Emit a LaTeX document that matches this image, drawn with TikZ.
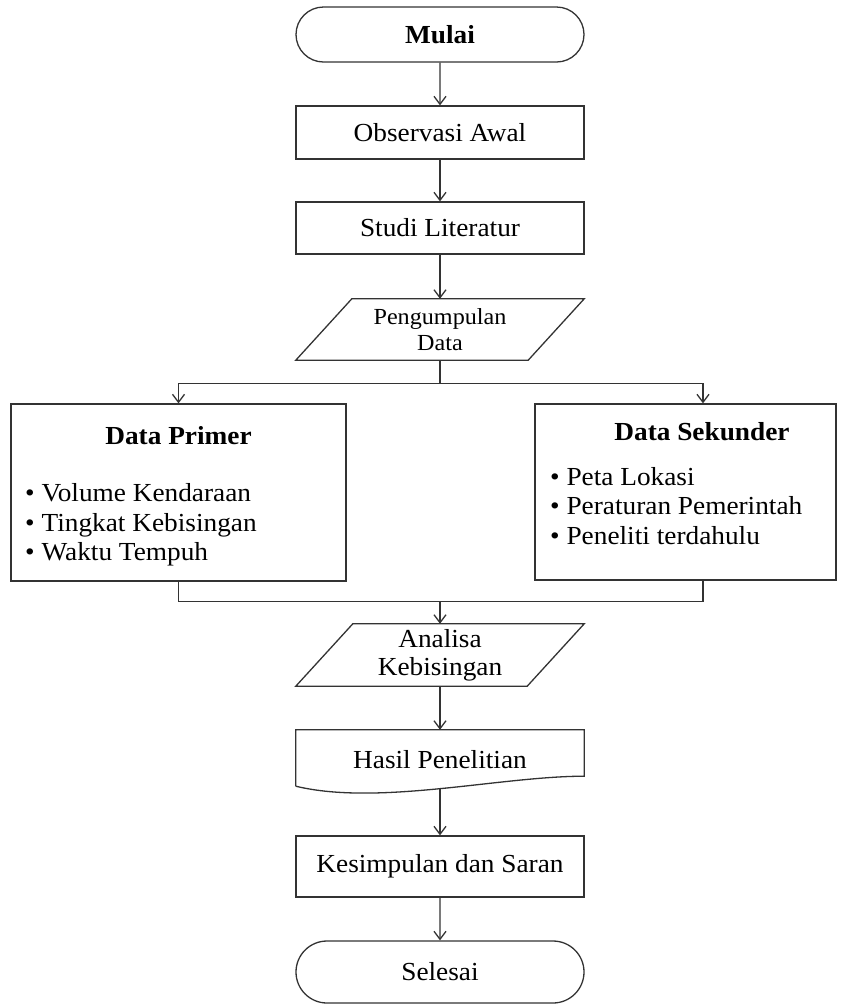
\documentclass[tikz,border=0pt]{standalone}
\usepackage{fontspec}
\setmainfont{Liberation Serif}[FakeStretch=1.05]
\usetikzlibrary{arrows.meta,shapes.misc,calc}
\definecolor{warnagaris}{gray}{0.2}
\newcommand{\hurufutama}{\fontsize{26}{29.5}\selectfont}
\begin{document}
\begin{tikzpicture}[x=1pt, y=-1pt,
    kotak/.style = {draw=warnagaris, line width=1.3pt, inner sep=0pt},
    proses/.style = {kotak, minimum width=288pt, minimum height=53pt, font=\hurufutama},
    terminal/.style = {proses, rounded rectangle, minimum height=55pt},
    kosong/.style = {inner sep=0pt, minimum width=288pt, align=center},
    sambung/.style = {draw=warnagaris, line width=1.3pt},
    panah/.style = {sambung, -{Straight Barb[length=8pt,width=12pt]}}]
        \useasboundingbox (0,0) rectangle (859,1005);

        \node[terminal, font=\hurufutama\bfseries] (mulai) at (440,34.5) {Mulai};
        \node[proses] (observasi) at (440,132.5) {Observasi Awal};
        \node[proses, minimum height=52pt] (studi) at (440,228) {Studi Literatur};
        \node[kosong, minimum height=61pt, font=\fontsize{23}{26}\selectfont] (kumpul) at (440,329.5) {Pengumpulan\\Data};

        \node[kotak, minimum width=335pt, minimum height=177pt] (primer) at (178.5,492.5) {};
        \node[font=\hurufutama\bfseries] (judulprimer) at (178.5,436) {Data Primer};
        \node[anchor=west, align=left, inner sep=0pt, font=\hurufutama] (isiprimer) at (25,525)
            {\textbullet\ Volume Kendaraan\\\textbullet\ Tingkat Kebisingan\\\textbullet\ Waktu Tempuh};

        \node[kotak, minimum width=301pt, minimum height=176pt] (sekunder) at (685.5,492) {};
        \node[font=\hurufutama\bfseries] (judulsekunder) at (702,432) {Data Sekunder};
        \node[anchor=west, align=left, inner sep=0pt, font=\hurufutama] (isisekunder) at (550,506)
            {\textbullet\ Peta Lokasi\\\textbullet\ Peraturan Pemerintah\\\textbullet\ Peneliti terdahulu};

        \node[kosong, minimum height=62pt, font=\fontsize{26}{28}\selectfont] (analisa) at (440,655) {Analisa\\Kebisingan};
        \node[kosong, minimum height=59pt, font=\hurufutama] (hasil) at (440,759.5) {Hasil Penelitian};
        \node[proses, minimum height=61pt] (kesimpulan) at (440,866.5) {Kesimpulan dan Saran};
        \node[terminal, minimum height=62pt] (selesai) at (440,972) {Selesai};

        % bentuk data dan dokumen
        \draw[sambung] ($(kumpul.north west)+(56,0)$) -- (kumpul.north east)
            -- ($(kumpul.south east)+(-56,0)$) -- (kumpul.south west) -- cycle;
        \draw[sambung] ($(analisa.north west)+(57,0)$) -- (analisa.north east)
            -- ($(analisa.south east)+(-57,0)$) -- (analisa.south west) -- cycle;
        \draw[sambung] ($(hasil.south west)+(0,-3)$) -- (hasil.north west) -- (hasil.north east)
            -- ($(hasil.south east)+(0,-13)$)
            .. controls ($(hasil.south east)+(-84,-13)$) and ($(hasil.south west)+(83,17)$) .. ($(hasil.south west)+(0,-3)$);

        \draw[panah] (mulai) -- (observasi);
        \draw[panah] (observasi) -- (studi);
        \draw[panah] (studi) -- (kumpul);

        \draw[sambung] (kumpul.south) -- ++(0,23) coordinate (cabang);
        \draw[panah] (cabang) -| (primer.north);
        \draw[panah] (cabang) -| ($(sekunder.north)+(17.5,0)$);

        \draw[sambung] (primer.south) |- ($(analisa.north)+(0,-22)$) coordinate (gabung)
            -| ($(sekunder.south)+(17.5,0)$);
        \draw[panah] (gabung) -- (analisa);

        \draw[panah] (analisa) -- (hasil);
        \draw[panah] (hasil) -- (kesimpulan);
        \draw[panah] (kesimpulan) -- (selesai);
    \end{tikzpicture}
\end{document}
